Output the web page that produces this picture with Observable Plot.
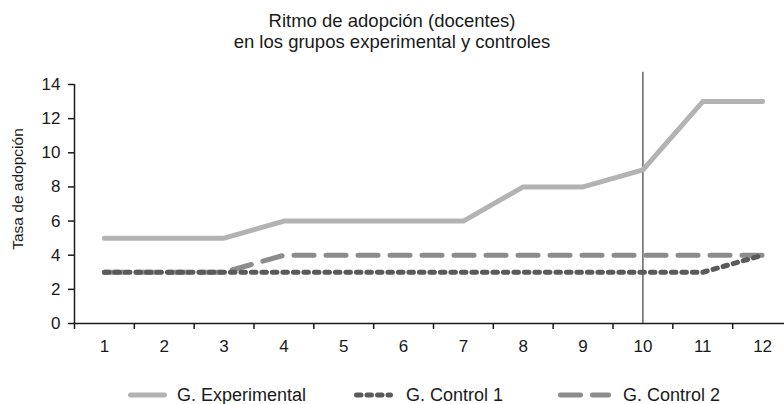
<!DOCTYPE html>
<html><head><meta charset="utf-8">
<script src="https://cdn.jsdelivr.net/npm/d3@7"></script>
<script src="https://cdn.jsdelivr.net/npm/@observablehq/plot@0.6"></script>
<style>
html,body{margin:0;background:#fff;overflow:hidden}
body{font-family:"Liberation Sans",Arial,sans-serif;color:#1a1a1a}
#title{height:52px;box-sizing:border-box;padding-top:9.5px;text-align:center;font-size:18.5px;line-height:21px}
#legend{position:relative;height:41px;font-size:18px}
.item{position:absolute;top:23px;display:flex;align-items:center;line-height:18px;white-space:nowrap}
.item svg{display:block}
</style></head><body>
<div id="title">Ritmo de adopción (docentes)<br>en los grupos experimental y controles</div>
<div id="chart"></div>
<div id="legend"></div>
<script>
const periods = [1,2,3,4,5,6,7,8,9,10,11,12];
const experimental = [5,5,5,6,6,6,6,8,8,9,13,13];
const control1 = [3,3,3,3,3,3,3,3,3,3,3,4];
const control2 = [3,3,3,4,4,4,4,4,4,4,4,4];
const seriesNames = ["G. Experimental","G. Control 1","G. Control 2"];
const yTicks = [0,2,4,6,8,10,12,14];
const xBoundaries = [0.5,1.5,2.5,3.5,4.5,5.5,6.5,7.5,8.5,9.5,10.5,11.5];
const markerPeriod = [10];
const yLabel = "Tasa de adopción";

const styles = [
  {key:"exp", stroke:"#b3b3b3", dash:null, swatch:39, left:128, gap:10},
  {key:"c1", stroke:"#5a5a5a", dash:"4.5,6", swatch:39, left:354, gap:13},
  {key:"c2", stroke:"#8c8c8c", dash:"20,12", swatch:53, left:558, gap:12}
];

const rows = periods.map((p,i)=>({period:p, exp:experimental[i], c1:control1[i], c2:control2[i]}));
const lineOpts = s => ({x:"period", y:s.key, stroke:s.stroke, strokeWidth:5, strokeDasharray:s.dash ?? undefined, strokeLinecap:"round", strokeLinejoin:"round"});

const chart = Plot.plot({
  width:784, height:311,
  marginLeft:74, marginRight:0, marginTop:32, marginBottom:40,
  style:{fontFamily:'"Liberation Sans",Arial,sans-serif', fontSize:"17px", color:"#1a1a1a", background:"#fff"},
  x:{domain:[0.5,12.5], range:[74,792], label:null},
  y:{domain:[0,14], range:[271,32], label:null},
  marks:[
    Plot.ruleX(markerPeriod, {x:d=>d, y1:0, y2:14.72, stroke:"#4d4d4d", strokeWidth:1.3}),
    Plot.line(rows, lineOpts(styles[0])),
    Plot.line(rows, lineOpts(styles[2])),
    Plot.line(rows, lineOpts(styles[1])),
    Plot.ruleY([0], {stroke:"#1a1a1a", strokeWidth:1.5}),
    Plot.ruleX([0.5], {x:d=>d, y1:0, y2:14, stroke:"#1a1a1a", strokeWidth:1.5}),
    Plot.axisY(yTicks, {anchor:"left", tickSize:6, tickPadding:8, fontSize:17, strokeWidth:1.5, label:null}),
    Plot.axisX(xBoundaries, {anchor:"bottom", tickSize:6, strokeWidth:1.5, tickFormat:()=>"", label:null}),
    Plot.axisX(periods, {anchor:"bottom", tickSize:0, tickPadding:16, fontSize:17, label:null}),
    Plot.text([yLabel], {frameAnchor:"left", textAnchor:"middle", rotate:-90, dx:-56, dy:-15, fontSize:15.5, fill:"#1a1a1a"})
  ]
});
document.getElementById("chart").appendChild(chart);

const legend = d3.select("#legend");
styles.forEach((s,i)=>{
  const item = legend.append("div").attr("class","item").style("left", s.left+"px");
  const svg = item.append("svg").attr("width", s.swatch).attr("height", 10).style("margin-right", s.gap+"px");
  svg.append("line").attr("x1",2.5).attr("x2",s.swatch-2.5).attr("y1",5).attr("y2",5)
    .attr("stroke",s.stroke).attr("stroke-width",5).attr("stroke-linecap","round")
    .attr("stroke-dasharray", s.dash);
  item.append("span").text(seriesNames[i]);
});
</script>
</body></html>
